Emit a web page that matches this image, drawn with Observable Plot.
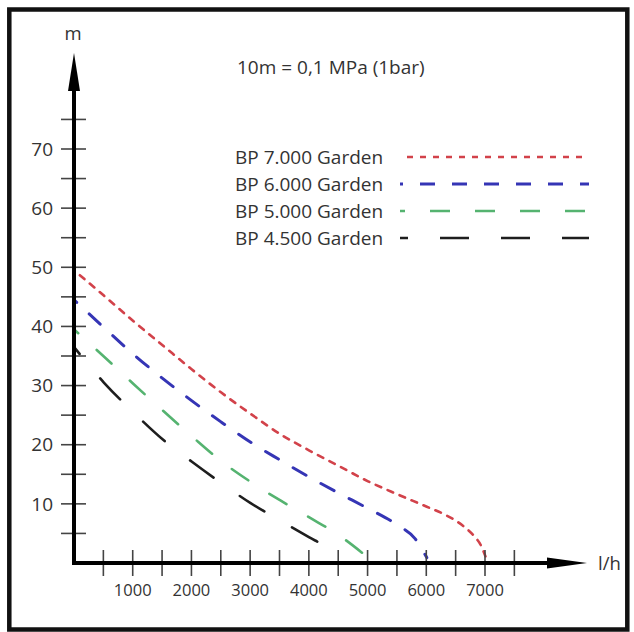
<!DOCTYPE html>
<html>
<head>
<meta charset="utf-8">
<script src="https://cdn.jsdelivr.net/npm/d3@7"></script>
<script src="https://cdn.jsdelivr.net/npm/@observablehq/plot@0.6"></script>
<style>
  html, body { margin: 0; padding: 0; background: #fff; }
  #chart { position: relative; width: 634px; height: 632px; }
  svg { display: block; }
</style>
</head>
<body>
<div id="chart"></div>
<script>
// ---- data ----
const seriesNames = ["BP 7.000 Garden", "BP 6.000 Garden", "BP 5.000 Garden", "BP 4.500 Garden"];
const flowBP7000 = [0, 500, 1000, 1500, 2000, 2500, 3000, 3500, 4000, 4500, 5000, 5500, 6000, 6300, 6600, 6800, 6920, 7000];
const headBP7000 = [49.5, 45.3, 41.0, 36.9, 32.8, 28.9, 25.3, 21.9, 19.1, 16.5, 13.9, 11.7, 9.6, 8.3, 6.5, 4.7, 3.1, 1.2];
const flowBP6000 = [0, 500, 1000, 1500, 2000, 2500, 3000, 3500, 4000, 4500, 5000, 5500, 5800, 6000];
const headBP6000 = [44.5, 39.9, 35.4, 31.3, 27.5, 23.9, 20.5, 17.5, 14.6, 11.9, 9.3, 6.5, 4.2, 1.0];
const flowBP5000 = [0, 500, 1000, 1500, 2000, 2500, 3000, 3500, 4000, 4500, 5000];
const headBP5000 = [39.5, 35.0, 30.4, 25.9, 21.5, 17.3, 13.8, 10.7, 7.8, 4.8, 1.0];
const flowBP4500 = [0, 500, 1000, 1500, 2000, 2500, 3000, 3500, 4000, 4300, 4500];
const headBP4500 = [36.5, 30.6, 25.6, 21.0, 17.2, 13.6, 10.2, 7.3, 4.4, 2.6, 0.3];

const xTickValues = [500, 1000, 1500, 2000, 2500, 3000, 3500, 4000, 4500, 5000, 5500, 6000, 6500, 7000, 7500];
const xTickLabels = [1000, 2000, 3000, 4000, 5000, 6000, 7000];
const yTickValues = [5, 10, 15, 20, 25, 30, 35, 40, 45, 50, 55, 60, 65, 70, 75];
const yTickLabels = [10, 20, 30, 40, 50, 60, 70];
const noteText = "10m = 0,1 MPa (1bar)";
const xAxisLabel = "l/h";
const yAxisLabel = "m";

// ---- styles ----
const styles = [
  {color: "#d2424a", dash: "6,7", offset: 6, width: 2.6},
  {color: "#3535b5", dash: "15,17", offset: 12, width: 3},
  {color: "#55b370", dash: "20,25", offset: 15, width: 2.6},
  {color: "#1e1e1e", dash: "29,32", offset: 21, width: 2.6}
];
const flows = [flowBP7000, flowBP6000, flowBP5000, flowBP4500];
const heads = [headBP7000, headBP6000, headBP5000, headBP4500];
const tables = flows.map((f, i) => f.map((q, j) => ({series: seriesNames[i], q, h: heads[i][j]})));

const W = 634, H = 632;
const xDomain = [0, 7000], xRange = [74, 485];
const yDomain = [0, 70], yRange = [563, 149];
const font = "'Open Sans', sans-serif";

const plot = Plot.plot({
  width: W,
  height: H,
  x: {domain: xDomain, range: xRange, axis: null},
  y: {domain: yDomain, range: yRange, axis: null},
  style: {fontFamily: font, background: "white", overflow: "visible"},
  marks: tables.map((t, i) => Plot.line(t, {
    x: "q", y: "h", curve: "monotone-x",
    stroke: styles[i].color,
    strokeWidth: styles[i].width,
    strokeDasharray: styles[i].dash,
    strokeDashoffset: styles[i].offset
  }))
});
document.getElementById("chart").appendChild(plot);

// ---- axes, ticks, labels, legend drawn using the same scales ----
const xs = d3.scaleLinear().domain(xDomain).range(xRange);
const ys = d3.scaleLinear().domain(yDomain).range(yRange);
const svg = d3.select(plot);
const g = svg.append("g").attr("text-anchor", "start");

// border
g.append("rect").attr("x", 9.3).attr("y", 9.5).attr("width", 618).attr("height", 620)
  .attr("fill", "none").attr("stroke", "#111").attr("stroke-width", 4.5);

const x0 = xs(0), y0 = ys(0);
const xTip = 587, yTip = 53;

// ticks
g.selectAll(".xt").data(xTickValues).join("line")
  .attr("x1", d => xs(d)).attr("x2", d => xs(d))
  .attr("y1", y0 - 13).attr("y2", y0 + 13)
  .attr("stroke", "#444").attr("stroke-width", 1.6);
g.selectAll(".yt").data(yTickValues).join("line")
  .attr("y1", d => ys(d)).attr("y2", d => ys(d))
  .attr("x1", x0 - 13).attr("x2", x0 + 12)
  .attr("stroke", "#444").attr("stroke-width", 1.6);

// axis lines
g.append("line").attr("x1", x0).attr("x2", xTip - 30).attr("y1", y0).attr("y2", y0)
  .attr("stroke", "#000").attr("stroke-width", 4);
g.append("line").attr("x1", x0).attr("x2", x0).attr("y1", y0 + 2).attr("y2", yTip + 30)
  .attr("stroke", "#000").attr("stroke-width", 4);
// arrow heads
g.append("path").attr("d", `M${xTip},${y0} L${xTip - 40},${y0 - 5.5} L${xTip - 40},${y0 + 5.5} Z`).attr("fill", "#000");
g.append("path").attr("d", `M${x0},${yTip} L${x0 - 6},${yTip + 38} L${x0 + 6},${yTip + 38} Z`).attr("fill", "#000");

// tick labels
g.selectAll(".xl").data(xTickLabels).join("text")
  .attr("x", d => xs(d)).attr("y", y0 + 33)
  .attr("text-anchor", "middle").attr("font-family", font).attr("font-size", 16.5)
  .attr("fill", "#333").text(d => d);
g.selectAll(".yl").data(yTickLabels).join("text")
  .attr("x", 53).attr("y", d => ys(d)).attr("dy", "0.35em")
  .attr("text-anchor", "end").attr("font-family", font).attr("font-size", 19)
  .attr("fill", "#333").text(d => d);

// axis labels
g.append("text").attr("x", 73).attr("y", 40).attr("text-anchor", "middle")
  .attr("font-family", font).attr("font-size", 18.5).attr("fill", "#333").text(yAxisLabel);
g.append("text").attr("x", 598).attr("y", 570).attr("text-anchor", "start")
  .attr("font-family", font).attr("font-size", 18.5).attr("fill", "#333").text(xAxisLabel);

// note
g.append("text").attr("x", 237).attr("y", 67).attr("dy", "0.35em").attr("text-anchor", "start")
  .attr("font-family", font).attr("font-size", 19).attr("fill", "#333").text(noteText);

// legend
const legendTop = 157, legendStep = 27;
seriesNames.forEach((name, i) => {
  const yy = legendTop + i * legendStep;
  g.append("text").attr("x", 235).attr("y", yy).attr("dy", "0.35em").attr("text-anchor", "start")
    .attr("font-family", font).attr("font-size", 19).attr("fill", "#333").text(name);
  g.append("line").attr("x1", 400).attr("x2", 589).attr("y1", yy).attr("y2", yy)
    .attr("stroke", styles[i].color).attr("stroke-width", styles[i].width)
    .attr("stroke-dasharray", styles[i].dash).attr("stroke-dashoffset", styles[i].offset);
});
</script>
</body>
</html>
